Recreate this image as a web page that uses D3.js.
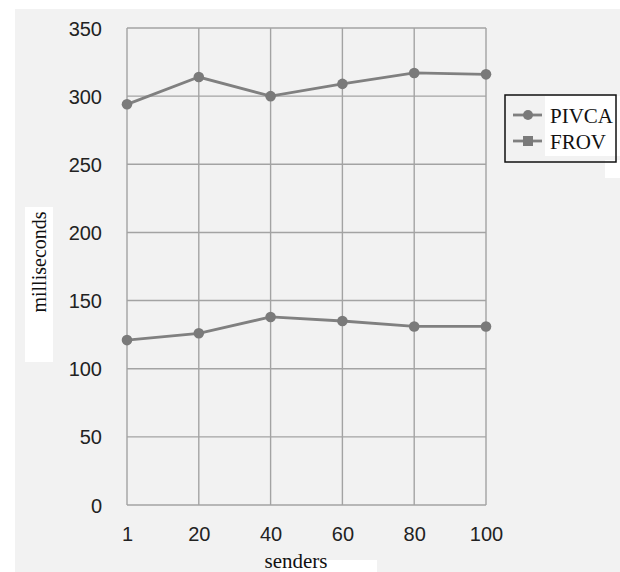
<!DOCTYPE html>
<html><head><meta charset="utf-8">
<script src="https://cdn.jsdelivr.net/npm/d3@7"></script>
<style>html,body{margin:0;padding:0;background:#fff;}svg{display:block;}</style>
</head><body>
<script>
const categories = ["1","20","40","60","80","100"];
const pivca = [294, 314, 300, 309, 317, 316];
const frov = [121, 126, 138, 135, 131, 131];
const seriesNames = ["PIVCA","FROV"];
const yTicks = [0,50,100,150,200,250,300,350];

const W = 620, H = 572;
const svg = d3.select("body").append("svg").attr("width", W).attr("height", H);
svg.append("rect").attr("x",15).attr("y",9).attr("width",W-15).attr("height",H-9).attr("fill","#f2f2f2");

const x = d3.scalePoint().domain(categories).range([127, 486]);
const y = d3.scaleLinear().domain([0,350]).range([505, 28]);
const gridColor = "#a3a3a3";

// grid
const g = svg.append("g");
g.selectAll(".hg").data(yTicks).join("line")
  .attr("x1",127).attr("x2",486).attr("y1",d=>y(d)).attr("y2",d=>y(d))
  .attr("stroke",gridColor).attr("stroke-width",1.4);
g.selectAll(".vg").data(categories).join("line")
  .attr("x1",d=>x(d)).attr("x2",d=>x(d)).attr("y1",y(0)).attr("y2",y(350))
  .attr("stroke",gridColor).attr("stroke-width",1.4);

// axes labels
const yAxis = d3.axisLeft(y).tickValues(yTicks).tickSize(0).tickPadding(0);
const ya = svg.append("g").attr("transform","translate(102,0)").call(yAxis);
ya.select(".domain").remove();
ya.selectAll("text").attr("font-family","Liberation Sans, Arial, sans-serif").attr("font-size",20).attr("fill","#222").attr("dy","0.35em");

const xAxis = d3.axisBottom(x).tickSize(0).tickPadding(0);
const xa = svg.append("g").attr("transform","translate(0,527)").call(xAxis);
xa.select(".domain").remove();
xa.selectAll("text").attr("font-family","Liberation Sans, Arial, sans-serif").attr("font-size",20).attr("fill","#222").attr("dy","0.71em");

// lines
const lineGen = d3.line().x((d,i)=>x(categories[i])).y(d=>y(d));
[pivca, frov].forEach(s=>{
  svg.append("path").datum(s).attr("d",lineGen).attr("fill","none").attr("stroke","#808080").attr("stroke-width",2.8);
  svg.selectAll(null).data(s).join("circle").attr("cx",(d,i)=>x(categories[i])).attr("cy",d=>y(d)).attr("r",5.3).attr("fill","#7a7a7a");
});

// y title
svg.append("rect").attr("x",25).attr("y",207).attr("width",28).attr("height",155).attr("fill","#fff");
svg.append("text").attr("transform","translate(46,262) rotate(-90)").attr("text-anchor","middle")
  .attr("font-family","Liberation Serif, Times New Roman, serif").attr("font-size",20).attr("fill","#111").text("milliseconds");

// x title
svg.append("rect").attr("x",280).attr("y",560).attr("width",97).attr("height",12).attr("fill","#fff");
svg.append("text").attr("x",296).attr("y",568).attr("text-anchor","middle")
  .attr("font-family","Liberation Serif, Times New Roman, serif").attr("font-size",21).attr("fill","#111").text("senders");

// legend
svg.append("rect").attr("x",605).attr("y",160).attr("width",15).attr("height",18).attr("fill","#fff");
svg.append("rect").attr("x",545).attr("y",96).attr("width",75).attr("height",60).attr("fill","#fff");
svg.append("rect").attr("x",505).attr("y",95).attr("width",111).attr("height",67).attr("fill","none").attr("stroke","#111").attr("stroke-width",1.5);
const ly = [115, 141];
seriesNames.forEach((n,i)=>{
  svg.append("line").attr("x1",513).attr("x2",542).attr("y1",ly[i]).attr("y2",ly[i]).attr("stroke","#808080").attr("stroke-width",2.8);
  if(i===0) svg.append("circle").attr("cx",528).attr("cy",ly[i]).attr("r",5).attr("fill","#7a7a7a");
  else svg.append("rect").attr("x",523).attr("y",ly[i]-5).attr("width",10).attr("height",10).attr("fill","#7a7a7a");
  svg.append("text").attr("x",550).attr("y",ly[i]+8).attr("font-family","Liberation Serif, Times New Roman, serif")
    .attr("font-size",21).attr("fill","#111").text(n);
});
</script>
</body></html>
